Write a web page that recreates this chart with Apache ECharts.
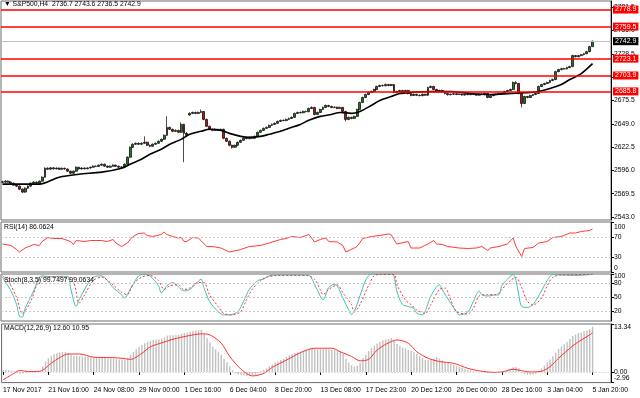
<!DOCTYPE html>
<html>
<head>
<meta charset="utf-8">
<script src="https://cdn.jsdelivr.net/npm/echarts@6/dist/echarts.min.js"></script>
<style>
  html, body { margin: 0; padding: 0; background: #fff; }
  #chart { width: 640px; height: 398px; }
</style>
</head>
<body>
<div id="chart"></div>
<script>
var FONT = 'Liberation Sans, Arial, DejaVu Sans, sans-serif';

// S&P500 H4 bars
var opens = [
  2583.0, 2582.6, 2583.8, 2582.6, 2581.5, 2579.2, 2578.1, 2574.7, 2571.3, 2575.8,
  2578.1, 2581.5, 2582.6, 2581.5, 2583.8, 2588.3, 2598.5, 2597.4, 2598.9, 2597.8,
  2598.6, 2597.2, 2598.4, 2597.6, 2595.1, 2592.8, 2595.1, 2599.6, 2597.6, 2598.7,
  2597.9, 2598.8, 2599.6, 2600.8, 2600.5, 2601.9, 2603.0, 2600.8, 2599.6, 2600.8,
  2601.9, 2600.8, 2599.6, 2599.9, 2603.0, 2611.0, 2622.3, 2625.7, 2626.8, 2625.7,
  2626.8, 2627.9, 2624.5, 2623.4, 2625.7, 2626.8, 2629.1, 2631.3, 2635.9, 2644.9,
  2642.7, 2640.4, 2641.5, 2639.3, 2648.3, 2638.1, 2659.0, 2660.8, 2661.9, 2660.8,
  2661.9, 2663.0, 2654.0, 2646.1, 2642.7, 2641.5, 2642.7, 2641.5, 2642.7, 2632.5,
  2629.1, 2624.5, 2622.3, 2624.5, 2627.9, 2630.2, 2632.5, 2632.1, 2633.6, 2632.5,
  2634.7, 2639.3, 2641.5, 2643.8, 2644.9, 2647.2, 2648.3, 2649.5, 2651.7, 2652.9,
  2652.6, 2654.0, 2655.1, 2656.3, 2660.8, 2661.9, 2661.5, 2663.0, 2662.7, 2666.4,
  2667.6, 2659.6, 2661.9, 2665.3, 2667.6, 2669.8, 2668.7, 2667.6, 2667.9, 2666.4,
  2667.6, 2663.0, 2654.0, 2656.3, 2655.1, 2657.4, 2665.3, 2673.2, 2678.9, 2682.3,
  2684.6, 2685.7, 2688.0, 2691.4, 2692.5, 2692.2, 2693.6, 2692.5, 2693.6, 2684.6,
  2685.7, 2686.8, 2684.6, 2686.8, 2683.4, 2681.2, 2682.5, 2681.4, 2681.0, 2682.6,
  2681.5, 2690.2, 2691.4, 2688.0, 2685.7, 2686.8, 2685.7, 2683.4, 2682.0, 2682.6,
  2683.2, 2682.3, 2682.8, 2681.6, 2682.5, 2682.1, 2682.9, 2682.4, 2681.5, 2682.6,
  2682.2, 2683.4, 2678.9, 2681.0, 2682.1, 2682.7, 2683.2, 2683.8, 2685.7, 2686.8,
  2688.0, 2695.9, 2694.8, 2683.4, 2672.1, 2680.0, 2678.9, 2681.2, 2682.3, 2683.4,
  2691.4, 2693.6, 2694.8, 2695.9, 2698.2, 2699.3, 2708.3, 2710.6, 2711.7, 2711.4,
  2712.9, 2714.0, 2726.5, 2725.3, 2726.5, 2727.6, 2728.7, 2731.0, 2736.7
];
var closes = [
  2582.6, 2583.8, 2582.6, 2581.5, 2579.2, 2578.1, 2574.7, 2571.3, 2575.8, 2578.1,
  2581.5, 2582.6, 2581.5, 2583.8, 2588.3, 2598.5, 2597.4, 2598.9, 2597.8, 2598.6,
  2597.2, 2598.4, 2597.6, 2595.1, 2592.8, 2595.1, 2599.6, 2597.6, 2598.7, 2597.9,
  2598.8, 2599.6, 2600.8, 2600.5, 2601.9, 2603.0, 2600.8, 2599.6, 2600.8, 2601.9,
  2600.8, 2599.6, 2599.9, 2603.0, 2611.0, 2622.3, 2625.7, 2626.8, 2625.7, 2626.8,
  2627.9, 2624.5, 2623.4, 2625.7, 2626.8, 2629.1, 2631.3, 2635.9, 2644.9, 2642.7,
  2640.4, 2641.5, 2639.3, 2648.3, 2638.1, 2635.9, 2660.8, 2661.9, 2660.8, 2661.9,
  2663.0, 2654.0, 2646.1, 2642.7, 2641.5, 2642.7, 2641.5, 2642.7, 2632.5, 2629.1,
  2624.5, 2622.3, 2624.5, 2627.9, 2630.2, 2632.5, 2632.1, 2633.6, 2632.5, 2634.7,
  2639.3, 2641.5, 2643.8, 2644.9, 2647.2, 2648.3, 2649.5, 2651.7, 2652.9, 2652.6,
  2654.0, 2655.1, 2656.3, 2660.8, 2661.9, 2661.5, 2663.0, 2662.7, 2666.4, 2667.6,
  2659.6, 2661.9, 2665.3, 2667.6, 2669.8, 2668.7, 2667.6, 2667.9, 2666.4, 2667.6,
  2663.0, 2654.0, 2656.3, 2655.1, 2657.4, 2665.3, 2673.2, 2678.9, 2682.3, 2684.6,
  2685.7, 2688.0, 2691.4, 2692.5, 2692.2, 2693.6, 2692.5, 2693.6, 2684.6, 2685.7,
  2686.8, 2684.6, 2686.8, 2683.4, 2681.2, 2682.5, 2681.4, 2681.0, 2682.6, 2681.5,
  2690.2, 2691.4, 2688.0, 2685.7, 2686.8, 2685.7, 2683.4, 2682.0, 2682.6, 2683.2,
  2682.3, 2682.8, 2681.6, 2682.5, 2682.1, 2682.9, 2682.4, 2681.5, 2682.6, 2682.2,
  2683.4, 2678.9, 2681.0, 2682.1, 2682.7, 2683.2, 2683.8, 2685.7, 2686.8, 2688.0,
  2695.9, 2694.8, 2683.4, 2672.1, 2680.0, 2678.9, 2681.2, 2682.3, 2683.4, 2691.4,
  2693.6, 2694.8, 2695.9, 2698.2, 2699.3, 2708.3, 2710.6, 2711.7, 2711.4, 2712.9,
  2714.0, 2726.5, 2725.3, 2726.5, 2727.6, 2728.7, 2731.0, 2736.7, 2742.9
];
var highs = [
  2584.2, 2584.9, 2584.5, 2583.4, 2582.0, 2580.3, 2578.9, 2575.5, 2576.6, 2579.0,
  2582.4, 2583.7, 2583.5, 2584.6, 2589.2, 2599.4, 2599.5, 2599.6, 2599.5, 2599.4,
  2599.2, 2599.3, 2599.1, 2598.2, 2595.9, 2596.0, 2600.5, 2600.2, 2599.5, 2599.3,
  2599.6, 2600.4, 2601.6, 2601.7, 2602.7, 2603.9, 2603.8, 2601.5, 2601.7, 2602.8,
  2602.6, 2601.4, 2600.7, 2603.9, 2611.9, 2623.2, 2626.8, 2627.7, 2627.6, 2627.9,
  2634.7, 2628.8, 2625.3, 2626.6, 2627.7, 2630.0, 2632.3, 2636.8, 2657.4, 2645.8,
  2643.5, 2642.6, 2642.3, 2650.6, 2649.2, 2639.6, 2662.0, 2662.8, 2662.7, 2662.9,
  2665.3, 2663.6, 2654.8, 2647.0, 2643.6, 2643.6, 2643.4, 2643.5, 2643.4, 2633.3,
  2629.9, 2625.3, 2625.4, 2628.8, 2631.1, 2633.4, 2633.6, 2634.5, 2634.4, 2635.6,
  2640.2, 2642.4, 2644.7, 2645.9, 2648.1, 2649.3, 2650.4, 2652.6, 2653.8, 2654.0,
  2654.9, 2656.0, 2657.2, 2661.7, 2662.8, 2663.0, 2663.9, 2664.1, 2667.3, 2668.7,
  2668.3, 2662.8, 2666.2, 2668.5, 2670.8, 2670.6, 2669.5, 2668.6, 2668.4, 2668.5,
  2668.3, 2663.7, 2657.2, 2657.0, 2658.3, 2666.2, 2674.1, 2679.8, 2683.2, 2685.5,
  2686.7, 2688.9, 2692.3, 2693.5, 2693.6, 2694.8, 2694.4, 2694.5, 2694.3, 2686.6,
  2687.7, 2687.6, 2687.7, 2687.6, 2684.2, 2683.3, 2683.1, 2682.2, 2683.3, 2683.1,
  2691.1, 2692.5, 2692.2, 2688.8, 2687.7, 2687.6, 2686.5, 2684.2, 2683.3, 2684.0,
  2683.9, 2683.5, 2683.4, 2683.2, 2683.1, 2683.5, 2683.6, 2683.0, 2683.3, 2683.2,
  2684.2, 2684.1, 2681.9, 2682.9, 2683.4, 2683.9, 2684.6, 2686.6, 2687.7, 2689.0,
  2697.0, 2697.5, 2695.6, 2684.2, 2680.9, 2680.8, 2682.1, 2683.1, 2684.3, 2692.3,
  2694.5, 2695.7, 2696.8, 2699.1, 2700.3, 2709.2, 2711.5, 2712.6, 2712.5, 2713.8,
  2715.0, 2727.4, 2727.2, 2727.4, 2728.5, 2729.6, 2731.9, 2737.6, 2743.6
];
var lows = [
  2581.8, 2581.9, 2582.0, 2580.6, 2578.5, 2577.0, 2573.6, 2570.2, 2570.5, 2575.0,
  2577.6, 2580.8, 2580.7, 2580.9, 2583.1, 2587.6, 2596.5, 2596.8, 2597.0, 2597.1,
  2596.5, 2596.6, 2596.8, 2594.2, 2591.6, 2592.0, 2594.6, 2596.9, 2597.0, 2597.1,
  2597.2, 2598.0, 2599.0, 2599.8, 2599.9, 2601.2, 2600.0, 2598.7, 2599.0, 2600.2,
  2600.0, 2598.8, 2598.7, 2599.2, 2602.4, 2610.4, 2621.6, 2625.0, 2624.9, 2625.0,
  2626.1, 2623.7, 2622.4, 2622.8, 2625.0, 2626.1, 2628.4, 2630.6, 2635.2, 2641.8,
  2639.5, 2639.6, 2638.4, 2638.6, 2605.3, 2634.6, 2658.2, 2660.0, 2660.0, 2660.1,
  2661.2, 2653.1, 2645.2, 2641.8, 2640.6, 2640.8, 2640.7, 2640.8, 2631.6, 2628.2,
  2623.5, 2620.8, 2621.5, 2623.8, 2627.2, 2629.5, 2631.4, 2631.5, 2631.7, 2631.9,
  2634.0, 2638.6, 2640.8, 2643.0, 2644.2, 2646.5, 2647.6, 2648.8, 2651.0, 2652.0,
  2652.0, 2653.3, 2654.4, 2655.6, 2660.1, 2660.9, 2661.0, 2662.0, 2662.2, 2665.7,
  2658.7, 2658.9, 2661.2, 2664.6, 2666.9, 2667.9, 2666.8, 2666.7, 2665.6, 2665.7,
  2662.1, 2651.7, 2653.1, 2654.2, 2654.4, 2656.8, 2664.6, 2672.5, 2678.2, 2681.6,
  2683.9, 2685.0, 2687.3, 2690.7, 2691.6, 2691.7, 2691.7, 2691.8, 2683.7, 2683.8,
  2685.0, 2683.8, 2683.9, 2682.5, 2680.3, 2680.5, 2680.6, 2680.3, 2680.4, 2680.8,
  2680.7, 2689.5, 2687.2, 2684.8, 2685.0, 2684.9, 2682.5, 2681.2, 2681.4, 2681.9,
  2681.6, 2681.7, 2680.8, 2681.0, 2681.4, 2681.5, 2681.7, 2680.8, 2680.9, 2681.6,
  2681.5, 2678.0, 2678.2, 2680.4, 2681.4, 2682.1, 2682.6, 2683.1, 2685.0, 2686.0,
  2687.3, 2693.9, 2682.5, 2667.6, 2671.4, 2678.0, 2678.2, 2680.5, 2681.6, 2682.8,
  2690.7, 2692.9, 2694.1, 2695.2, 2697.5, 2698.6, 2707.6, 2709.9, 2710.8, 2710.9,
  2712.2, 2713.4, 2724.4, 2724.6, 2725.8, 2726.9, 2728.0, 2730.3, 2736.5
];

// moving average, [bar, price]
var maPoints = [
  [0, 2580.4], [13, 2580.4], [20, 2588.3], [27, 2591.7], [35, 2594.0], [42, 2598.5],
  [45, 2603.0], [49, 2608.7], [52, 2614.3], [56, 2620.0], [59, 2625.7], [63, 2631.3],
  [66, 2637.0], [70, 2640.4], [73, 2642.7], [77, 2641.5], [80, 2638.1], [84, 2634.7],
  [87, 2633.6], [91, 2634.7], [94, 2637.0], [98, 2640.4], [101, 2643.8], [105, 2648.3],
  [108, 2652.9], [112, 2657.4], [116, 2659.6], [119, 2661.9], [123, 2660.8], [126, 2663.0],
  [130, 2669.8], [133, 2675.5], [137, 2680.0], [140, 2683.4], [144, 2684.6], [151, 2685.7],
  [158, 2685.7], [165, 2683.4], [172, 2682.3], [179, 2683.4], [186, 2684.6], [189, 2685.7],
  [193, 2689.1], [197, 2693.6], [200, 2699.3], [204, 2706.1], [208, 2717.4]
];

var redLevels = [2778.9, 2759.5, 2723.1, 2703.9, 2685.8];
var lastPrice = 2742.9;
var priceTicks = [2543.0, 2569.5, 2596.0, 2622.5, 2649.0, 2675.5, 2702.0, 2728.5, 2755.0, 2781.5];

var rsiPoints = [
  [0, 56], [3, 53], [5, 45], [6, 40], [8, 48], [11, 55], [13, 53], [14, 61], [16, 69], [18, 67],
  [21, 67], [24, 61], [25, 55], [26, 63], [29, 61], [31, 63], [35, 63], [37, 61], [39, 65], [40, 58],
  [42, 51], [44, 58], [46, 71], [48, 77], [50, 78], [51, 73], [53, 71], [56, 75], [57, 80], [58, 75],
  [60, 71], [62, 68], [63, 69], [64, 61], [65, 61], [67, 69], [69, 68], [70, 63], [72, 51], [74, 51],
  [77, 48], [80, 40], [84, 45], [87, 51], [91, 53], [94, 58], [98, 65], [100, 67], [102, 71], [105, 69],
  [108, 75], [109, 68], [110, 60], [112, 65], [114, 68], [115, 61], [118, 60], [120, 53], [121, 40], [124, 48],
  [125, 51], [127, 67], [130, 71], [133, 73], [136, 76], [137, 75], [138, 65], [139, 56], [143, 61], [144, 48],
  [147, 48], [150, 56], [152, 63], [153, 56], [155, 55], [157, 51], [161, 48], [164, 47], [167, 48], [169, 51],
  [171, 43], [172, 48], [175, 51], [178, 56], [180, 68], [181, 51], [183, 31], [184, 47], [187, 49], [189, 58],
  [192, 61], [194, 69], [197, 71], [200, 78], [202, 78], [204, 81], [207, 83], [208, 86.06]
];
var rsiLevels = [30, 70];
var rsiTicks = [0, 30, 70, 100];

var stochMain = [
  [0, 93], [3, 64], [5, 35], [6, 10], [7, 8], [8, 27], [11, 64], [13, 93], [14, 96], [17, 94],
  [19, 95], [23, 95], [24, 71], [26, 31], [27, 45], [30, 78], [32, 93], [35, 96], [37, 86], [39, 71],
  [42, 56], [43, 49], [45, 67], [48, 96], [50, 99], [52, 96], [55, 75], [56, 60], [58, 75], [60, 82],
  [63, 67], [64, 64], [66, 67], [68, 78], [70, 89], [71, 71], [73, 42], [76, 20], [78, 13], [80, 13],
  [83, 20], [85, 42], [87, 67], [90, 86], [92, 89], [94, 96], [97, 98], [105, 98], [108, 97], [110, 78],
  [112, 53], [113, 45], [115, 71], [117, 78], [118, 75], [120, 49], [122, 24], [123, 14], [124, 20], [126, 53],
  [128, 86], [130, 100], [137, 100], [138, 96], [139, 64], [141, 35], [143, 31], [145, 27], [146, 17], [148, 13],
  [151, 53], [154, 77], [155, 67], [158, 38], [160, 20], [161, 13], [164, 19], [166, 42], [168, 64], [169, 56],
  [171, 53], [173, 55], [175, 56], [176, 75], [178, 89], [180, 99], [181, 86], [182, 56], [183, 31], [185, 29],
  [187, 35], [190, 64], [192, 86], [194, 99], [197, 98], [203, 97], [208, 99.75]
];
var stochSignal = [
  [0, 96], [2, 86], [5, 50], [7, 16], [10, 42], [12, 75], [14, 93], [20, 94], [25, 82], [27, 38],
  [29, 56], [32, 86], [35, 93], [38, 82], [42, 61], [44, 56], [46, 78], [49, 93], [52, 97], [55, 86],
  [57, 67], [59, 75], [62, 77], [64, 67], [66, 70], [69, 82], [71, 82], [73, 56], [76, 31], [78, 16],
  [81, 13], [84, 20], [86, 45], [88, 67], [91, 86], [93, 93], [97, 97], [107, 97], [110, 89], [112, 67],
  [113, 56], [115, 67], [118, 77], [120, 60], [123, 35], [124, 20], [126, 35], [129, 75], [131, 96], [133, 99],
  [138, 99], [139, 78], [142, 45], [144, 35], [146, 24], [149, 16], [151, 35], [154, 67], [156, 70], [158, 45],
  [160, 20], [164, 15], [166, 27], [168, 53], [171, 56], [174, 56], [176, 67], [179, 86], [181, 93], [183, 71],
  [185, 42], [187, 34], [190, 49], [192, 75], [194, 93], [197, 98], [208, 99.06]
];
var stochLevels = [20, 50, 80];
var stochTicks = [20, 50, 80, 100];

var macdHist = [
  0.5, 0.6, 0.5, 0.4, 0.2, -0.2, -0.4, -0.5, -0.2, 0.0,
  0.1, 0.2, 0.1, 0.3, 1.5, 2.9, 3.8, 4.5, 4.9, 5.2,
  5.4, 5.5, 5.5, 5.3, 4.8, 4.5, 4.5, 4.4, 4.3, 4.3,
  4.2, 4.1, 4.1, 4.0, 4.0, 4.0, 3.9, 3.8, 3.8, 3.7,
  3.6, 3.5, 3.4, 3.4, 3.8, 4.8, 5.6, 6.3, 7.0, 7.5,
  8.0, 8.4, 8.6, 8.9, 9.0, 9.1, 9.3, 9.6, 10.1, 10.2,
  10.2, 10.2, 10.3, 10.7, 10.8, 10.9, 11.2, 11.4, 11.5, 11.6,
  11.7, 10.7, 9.4, 8.2, 7.0, 6.3, 5.6, 4.8, 3.6, 2.7,
  1.6, 0.5, -0.4, -0.7, -0.9, -1.0, -1.1, -1.0, -0.9, -0.7,
  -0.2, 0.3, 0.6, 1.0, 1.6, 2.1, 2.6, 2.9, 3.3, 3.7,
  4.2, 4.6, 4.9, 5.3, 5.5, 5.7, 5.9, 6.1, 6.4, 6.7,
  6.4, 6.3, 6.3, 6.4, 6.4, 6.3, 6.2, 6.1, 6.0, 5.8,
  5.0, 3.6, 2.6, 1.9, 1.5, 1.7, 2.6, 3.8, 4.8, 5.8,
  6.6, 7.3, 7.9, 8.4, 8.8, 9.0, 9.2, 9.4, 8.6, 7.8,
  7.2, 6.8, 6.5, 6.1, 5.8, 5.5, 5.0, 4.4, 3.9, 3.4,
  3.3, 3.4, 3.7, 4.1, 3.8, 3.2, 2.7, 2.4, 2.2, 2.0,
  1.6, 1.4, 1.2, 0.9, 0.6, 0.4, 0.2, 0.1, 0.0, -0.1,
  -0.1, -0.3, -0.3, -0.3, -0.2, -0.1, 0.0, 0.3, 0.6, 0.9,
  1.3, 1.4, 1.0, -0.2, -0.6, -0.8, -0.8, -0.7, -0.5, 0.2,
  1.0, 1.8, 2.6, 3.5, 4.4, 5.4, 6.4, 7.1, 7.7, 8.4,
  9.2, 10.0, 10.4, 10.8, 11.0, 11.3, 11.5, 11.9, 12.6
];
var macdSignal = [
  [0, -2.2], [3, -0.8], [6, 0.4], [9, 0.1], [13, 0.2], [17, 2.4], [20, 4.0], [23, 5.0], [27, 5.0], [32, 4.1],
  [38, 4.0], [42, 3.8], [45, 3.5], [49, 5.2], [52, 7.0], [56, 8.1], [60, 9.1], [65, 10.0], [70, 10.6], [73, 10.3],
  [77, 8.0], [80, 4.3], [84, 0.75], [88, -1.1], [92, -0.4], [95, 1.3], [100, 3.3], [105, 5.4], [110, 6.6], [116, 6.6],
  [119, 5.6], [123, 4.3], [126, 3.1], [129, 3.5], [132, 6.1], [136, 8.1], [139, 8.9], [143, 8.0], [146, 5.6], [150, 3.8],
  [154, 2.9], [159, 2.4], [164, 1.0], [168, 0.3], [173, -0.1], [176, 0], [180, 0.75], [182, 0.5], [186, 0], [190, 0.2],
  [193, 1.5], [196, 3.8], [200, 6.6], [203, 8.4], [207, 10.3], [208, 10.95]
];
var macdMin = -2.96;
var macdMax = 13.34;
var macdTicks = [0, 13.34];

var tickLabels = ['17 Nov 2017', '21 Nov 16:00', '24 Nov 08:00', '29 Nov 00:00', '1 Dec 16:00',
  '6 Dec 04:00', '8 Dec 20:00', '13 Dec 08:00', '17 Dec 23:00', '20 Dec 12:00', '26 Dec 00:00',
  '28 Dec 16:00', '3 Jan 04:00', '5 Jan 20:00'];
var labelEvery = 16;
var shiftBars = 6;   // empty space right of the last bar

var titles = [
  '\u25BC S&P500,H4  2736.7 2743.6 2736.5 2742.9',
  'RSI(14) 86.0624',
  'Stoch(8,3,5) 99.7497 99.0634',
  'MACD(12,26,9) 12.60 10.95'
];

var categories = [];
for (var i = 0; i < closes.length + shiftBars; i++) {
  categories.push(i % labelEvery === 0 && tickLabels[i / labelEvery] ? tickLabels[i / labelEvery] : '');
}
var candles = closes.map(function (c, i) { return [opens[i], c, lows[i], highs[i]]; });

var grids = [
  { top: 1, height: 219 },
  { top: 222, height: 50 },
  { top: 274, height: 47 },
  { top: 324, height: 58.6 }
].map(function (g) {
  return { left: 1, right: 29, top: g.top, height: g.height, show: true,
    borderColor: '#6a6a6a', borderWidth: 1, backgroundColor: '#fff' };
});

function xAxisFor(idx, showLabels) {
  var keep = function (n, v) { return v !== ''; };
  return {
    type: 'category', gridIndex: idx, data: categories, boundaryGap: true,
    axisLine: { show: false },
    axisTick: { show: showLabels, alignWithLabel: true, interval: keep, length: 3, lineStyle: { color: '#000' } },
    axisLabel: { show: showLabels, interval: keep, align: 'left', margin: 4,
      fontSize: 6.8, fontFamily: FONT, color: '#000' },
    splitLine: { show: false }
  };
}

var rich = {
  d4: { padding: [4, 0, 0, 0] }, d6: { padding: [6, 0, 0, 0] }, d10: { padding: [10, 0, 0, 0] },
  u8: { padding: [0, 0, 8, 0] }, u9: { padding: [0, 0, 9, 0] }
};
Object.keys(rich).forEach(function (k) {
  rich[k].fontSize = 6.8; rich[k].fontFamily = FONT; rich[k].color = '#000';
});

function yAxisFor(idx, min, max, ticks, digits, shifts, showLine) {
  return {
    type: 'value', gridIndex: idx, position: 'right', min: min, max: max,
    axisLine: { show: showLine !== false, lineStyle: { color: '#000', width: 1 } },
    axisTick: { show: true, length: 3, customValues: ticks, lineStyle: { color: '#000' } },
    splitLine: { show: false },
    axisLabel: {
      customValues: ticks, margin: 3, fontSize: 6.8, fontFamily: FONT, color: '#000', rich: rich,
      showMinLabel: true, showMaxLabel: true, hideOverlap: false,
      formatter: function (v) {
        var t = v.toFixed(digits);
        return shifts && shifts[t] ? '{' + shifts[t] + '|' + t + '}' : t;
      }
    }
  };
}

function levelLines(values, color, type) {
  return {
    silent: true, symbol: ['none', 'none'], animation: false,
    label: { show: false },
    lineStyle: { color: color, type: type, width: 1 },
    data: values.map(function (v) { return { yAxis: v }; })
  };
}

var boxLabel = function (bg) {
  return { show: true, position: 'end', distance: 2, color: '#fff', backgroundColor: bg,
    fontSize: 7, fontFamily: FONT, padding: [1, 2, 0, 2], lineHeight: 7,
    formatter: function (p) { return p.value.toFixed(1); } };
};

var priceLines = redLevels.map(function (v) {
  return { yAxis: v, lineStyle: { color: '#ff0000', width: 1.5, type: 'solid' }, label: boxLabel('#ff0000') };
});
priceLines.push({ yAxis: lastPrice, lineStyle: { color: '#c0c0c0', width: 1, type: 'solid' }, label: boxLabel('#000') });

var chart = echarts.init(document.getElementById('chart'));
chart.setOption({
  animation: false,
  backgroundColor: '#fff',
  title: titles.map(function (t, k) {
    return { text: t, left: 4, top: [1, 224, 277, 325][k], padding: 0,
      textStyle: { fontSize: 6.8, fontFamily: FONT, fontWeight: 'normal', color: '#000' } };
  }),
  grid: grids,
  xAxis: [xAxisFor(0, false), xAxisFor(1, false), xAxisFor(2, false), xAxisFor(3, true)],
  yAxis: [
    yAxisFor(0, 2539.6, 2788.6, priceTicks, 1, null),
    yAxisFor(1, 0, 100, rsiTicks, 0, { '100': 'd10', '0': 'u8' }),
    yAxisFor(2, 0, 100, stochTicks, 0, { '100': 'd4' }),
    yAxisFor(3, macdMin, macdMax, macdTicks, 2, { '13.34': 'd6' }),
    // the bottom MACD label sits on its own axis so it does not knock out 0.00
    yAxisFor(3, macdMin, macdMax, [macdMin], 2, { '-2.96': 'u9' }, false)
  ],
  series: [
    {
      type: 'candlestick', xAxisIndex: 0, yAxisIndex: 0, data: candles, barWidth: 2.4,
      itemStyle: { color: '#1f7a1f', color0: '#b81414', borderColor: '#000', borderColor0: '#000', borderWidth: 0.7 },
      markLine: { silent: true, symbol: ['none', 'none'], animation: false, z: 10, data: priceLines }
    },
    {
      type: 'line', xAxisIndex: 0, yAxisIndex: 0, data: maPoints, symbol: 'none', smooth: 0.3,
      lineStyle: { color: '#000', width: 1.6 }
    },
    {
      type: 'line', xAxisIndex: 1, yAxisIndex: 1, data: rsiPoints, symbol: 'none',
      lineStyle: { color: '#ff3b3b', width: 1 },
      markLine: levelLines(rsiLevels, '#c8c8c8', [2, 2])
    },
    {
      type: 'line', xAxisIndex: 2, yAxisIndex: 2, data: stochMain, symbol: 'none', smooth: 0.3,
      lineStyle: { color: '#3cc3b4', width: 1 },
      markLine: levelLines(stochLevels, '#c8c8c8', [2, 2])
    },
    {
      type: 'line', xAxisIndex: 2, yAxisIndex: 2, data: stochSignal, symbol: 'none', smooth: 0.3,
      lineStyle: { color: '#ff3030', width: 1, type: [2, 2] }
    },
    {
      type: 'bar', xAxisIndex: 3, yAxisIndex: 3, data: macdHist, barWidth: 1.4,
      itemStyle: { color: '#c0c0c0' },
      markLine: levelLines([0], '#c0c0c0', [1, 2])
    },
    {
      type: 'line', xAxisIndex: 3, yAxisIndex: 3, data: macdSignal, symbol: 'none', smooth: 0.3,
      lineStyle: { color: '#ff3030', width: 1 }
    }
  ]
});
</script>
</body>
</html>
